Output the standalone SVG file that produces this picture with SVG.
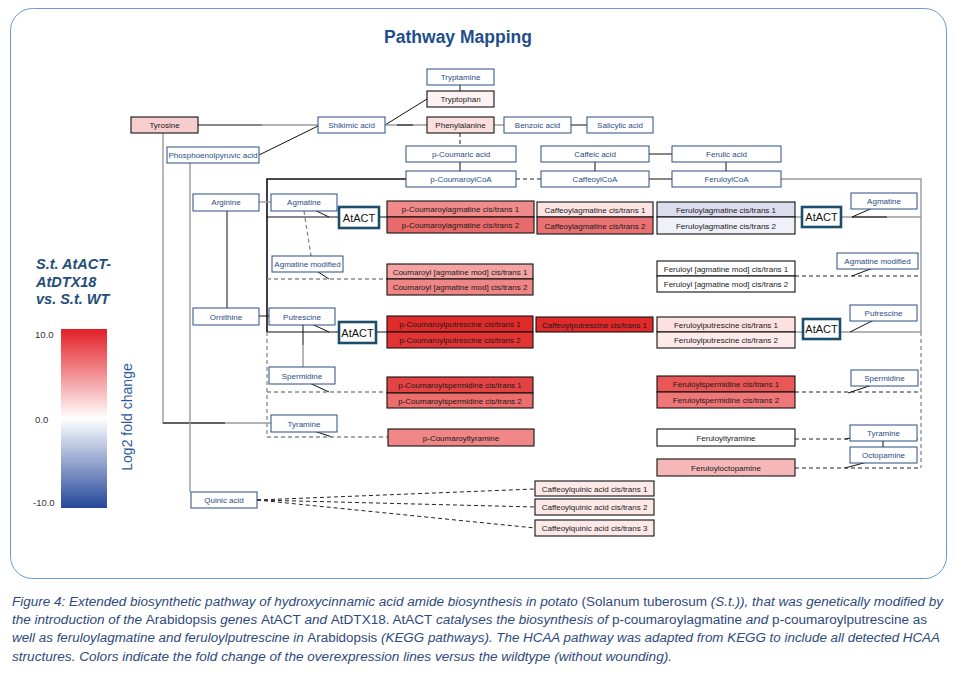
<svg xmlns="http://www.w3.org/2000/svg" width="955" height="676" viewBox="0 0 955 676">
<style>
text{font-family:"Liberation Sans",Arial,sans-serif}
.n rect{stroke-width:1}
.b rect{fill:#fff;stroke:#2a4d86}
.b text{fill:#2a4d86;font-size:8px;text-anchor:middle}
.k rect{stroke:#111;stroke-width:1.1}
.k text{fill:#1a1a1a;font-size:8px;text-anchor:middle}
.a rect{fill:#fff;stroke:#1d4d6b;stroke-width:2.6}
.a text{fill:#111;font-size:11px;text-anchor:middle}
.c line,.c polyline{fill:none}
.s{stroke:#111;stroke-width:1}
.s2{stroke:#111;stroke-width:1.6}
.g{stroke:#9a9a9a;stroke-width:1.4}
.d{stroke:#222;stroke-width:1;stroke-dasharray:4 3}
.gd{stroke:#8a8a8a;stroke-width:1.3;stroke-dasharray:4 3}
.cap{fill:#2e4a7d;font-size:12.5px;font-style:italic}
.cap .r{font-style:normal}
</style>
<defs>
<linearGradient id="fc" x1="0" y1="0" x2="0" y2="1">
<stop offset="0" stop-color="#e31f26"/>
<stop offset="0.5" stop-color="#ffffff"/>
<stop offset="1" stop-color="#24479a"/>
</linearGradient>
</defs>
<rect x="10.5" y="8.5" width="936" height="570" rx="22" fill="#fff" stroke="#6a9bd0" stroke-width="1"/>
<text x="458" y="43" font-size="17.5" font-weight="bold" fill="#1e4e8c" text-anchor="middle">Pathway Mapping</text>

<g id="legend">
<text font-size="14.5" font-weight="bold" font-style="italic" fill="#1f4e79"><tspan x="36" y="269">S.t. AtACT-</tspan><tspan x="36" y="287">AtDTX18</tspan><tspan x="36" y="304">vs. S.t. WT</tspan></text>
<rect x="61" y="329" width="46" height="179" fill="url(#fc)"/>
<text font-size="9.5" fill="#333"><tspan x="35" y="338">10.0</tspan><tspan x="35" y="423">0.0</tspan><tspan x="33" y="506">-10.0</tspan></text>
<text transform="translate(132,417) rotate(-90)" font-size="14" fill="#2c5a9e" text-anchor="middle">Log2 fold change</text>
</g>

<g id="connectors" class="c">
<line class="s" x1="460" y1="85" x2="460" y2="91"/>
<line class="s" x1="385" y1="125" x2="427" y2="99"/>
<line class="s" x1="198" y1="125" x2="262" y2="125"/>
<line class="g" x1="262" y1="125" x2="318" y2="125"/>
<line class="g" x1="385" y1="125" x2="427" y2="125"/>
<line class="s" x1="397" y1="125" x2="413" y2="125"/>
<line class="s" x1="259" y1="155" x2="318" y2="126"/>
<line class="g" x1="494" y1="125" x2="504" y2="125"/>
<line class="s" x1="571" y1="125" x2="587" y2="125"/>
<line class="d" x1="460" y1="133" x2="460" y2="146"/>
<line class="s" x1="460" y1="162" x2="460" y2="171"/>
<line class="s" x1="649" y1="154" x2="672" y2="154"/>
<line class="s" x1="595" y1="162" x2="595" y2="171"/>
<line class="s" x1="726" y1="162" x2="726" y2="171"/>
<line class="d" x1="516" y1="179" x2="541" y2="179"/>
<line class="s" x1="649" y1="179" x2="672" y2="179"/>
<polyline class="s2" points="406,179 267,179 267,332"/>
<line class="s" x1="267" y1="217" x2="339" y2="217"/>
<line class="s" x1="267" y1="332" x2="339" y2="332"/>
<line class="gd" x1="267" y1="332" x2="267" y2="437"/>
<line class="s" x1="304" y1="205" x2="329" y2="217"/>
<line class="gd" x1="304" y1="211" x2="311" y2="256"/>
<line class="s" x1="312" y1="268" x2="329" y2="279"/>
<line class="gd" x1="267" y1="279" x2="387" y2="279"/>
<line class="s" x1="379" y1="217" x2="387" y2="217"/>
<line class="g" x1="259" y1="202" x2="271" y2="202"/>
<line class="s" x1="227" y1="211" x2="227" y2="308"/>
<line class="s" x1="259" y1="316" x2="269" y2="316"/>
<line class="s" x1="303" y1="320" x2="329" y2="332"/>
<line class="s" x1="303" y1="325" x2="303" y2="345"/>
<line class="g" x1="303" y1="345" x2="303" y2="367"/>
<line class="s" x1="376" y1="332" x2="387" y2="332"/>
<line class="s" x1="303" y1="380" x2="329" y2="392"/>
<line class="gd" x1="267" y1="392" x2="387" y2="392"/>
<line class="s" x1="305" y1="428" x2="332" y2="437"/>
<line class="gd" x1="267" y1="437" x2="388" y2="437"/>
<polyline class="g" points="163,133 163,423 225,423"/>
<line class="s" x1="163" y1="423" x2="225" y2="423"/>
<line class="g" x1="225" y1="423" x2="271" y2="423"/>
<line class="g" x1="190" y1="163" x2="190" y2="492"/>
<line class="d" x1="257" y1="500" x2="535" y2="489"/>
<line class="d" x1="257" y1="500" x2="535" y2="507"/>
<line class="d" x1="257" y1="500" x2="535" y2="528"/>
<polyline class="g" points="781,179 921,179 921,332"/>
<line class="gd" x1="921" y1="332" x2="921" y2="468"/>
<line class="g" x1="795" y1="217" x2="802" y2="217"/>
<line class="g" x1="841" y1="217" x2="921" y2="217"/>
<line class="s" x1="852" y1="217" x2="887" y2="217"/>
<line class="s" x1="884" y1="203" x2="852" y2="217"/>
<line class="d" x1="795" y1="276" x2="921" y2="276"/>
<line class="s" x1="886" y1="263" x2="852" y2="276"/>
<line class="g" x1="795" y1="332" x2="803" y2="332"/>
<line class="g" x1="840" y1="332" x2="921" y2="332"/>
<line class="s" x1="882" y1="316" x2="850" y2="332"/>
<line class="d" x1="795" y1="392" x2="921" y2="392"/>
<line class="s" x1="884" y1="381" x2="848" y2="393"/>
<line class="d" x1="795" y1="439" x2="921" y2="439"/>
<line class="s" x1="882" y1="433" x2="845" y2="439"/>
<line class="s" x1="883" y1="441" x2="883" y2="447"/>
<line class="d" x1="795" y1="468" x2="921" y2="468"/>
<line class="s" x1="882" y1="458" x2="845" y2="468"/>
</g>

<g id="tryptamine" class="n b"><rect x="427" y="69" width="67" height="16"/><text x="460.5" y="80">Tryptamine</text></g>
<g id="tryptophan" class="n k"><rect x="427" y="91" width="67" height="16" fill="#fdf1f1"/><text x="460.5" y="102">Tryptophan</text></g>
<g id="tyrosine" class="n k"><rect x="131" y="117" width="67" height="16" fill="#f7cdcd"/><text x="164.5" y="128">Tyrosine</text></g>
<g id="shikimic" class="n b"><rect x="318" y="117" width="67" height="16"/><text x="351.5" y="128">Shikimic acid</text></g>
<g id="phenylalanine" class="n k"><rect x="427" y="117" width="67" height="16" fill="#fbdede"/><text x="460.5" y="128">Phenylalanine</text></g>
<g id="benzoic" class="n b"><rect x="504" y="117" width="67" height="16"/><text x="537.5" y="128">Benzoic acid</text></g>
<g id="salicylic" class="n b"><rect x="587" y="117" width="66" height="16"/><text x="620" y="128">Salicylic acid</text></g>
<g id="pep" class="n b"><rect x="167" y="147" width="92" height="16"/><text x="213" y="158" textLength="89" lengthAdjust="spacingAndGlyphs">Phosphoenolpyruvic acid</text></g>
<g id="pcoumaric" class="n b"><rect x="406" y="146" width="110" height="16"/><text x="461" y="157">p-Coumaric acid</text></g>
<g id="caffeic" class="n b"><rect x="541" y="146" width="108" height="16"/><text x="595" y="157">Caffeic acid</text></g>
<g id="ferulic" class="n b"><rect x="672" y="146" width="109" height="16"/><text x="726.5" y="157">Ferulic acid</text></g>
<g id="pcoumaroylcoa" class="n b"><rect x="406" y="171" width="110" height="16"/><text x="461" y="182">p-CoumaroylCoA</text></g>
<g id="caffeoylcoa" class="n b"><rect x="541" y="171" width="108" height="16"/><text x="595" y="182">CaffeoylCoA</text></g>
<g id="feruloylcoa" class="n b"><rect x="672" y="171" width="109" height="16"/><text x="726.5" y="182">FeruloylCoA</text></g>

<g id="arginine" class="n b"><rect x="193" y="194" width="66" height="17"/><text x="226" y="205">Arginine</text></g>
<g id="agmatine-l" class="n b"><rect x="271" y="194" width="66" height="17"/><text x="304" y="205">Agmatine</text></g>
<g id="atact-1" class="n a"><rect x="339" y="207" width="40" height="21"/><text x="359" y="221.5">AtACT</text></g>
<g id="pcoumaroylagmatine" class="n k"><rect x="387" y="201" width="147" height="16" fill="#f18a8a"/><rect x="387" y="217" width="147" height="16" fill="#e96a6a"/><text x="460.5" y="212">p-Coumaroylagmatine cis/trans 1</text><text x="460.5" y="228">p-Coumaroylagmatine cis/trans 2</text></g>
<g id="caffeoylagmatine" class="n k"><rect x="537" y="202" width="116" height="15" fill="#fde4e4"/><rect x="537" y="217" width="116" height="17" fill="#e87272"/><text x="595" y="212.5">Caffeoylagmatine cis/trans 1</text><text x="595" y="228.5">Caffeoylagmatine cis/trans 2</text></g>
<g id="feruloylagmatine" class="n k"><rect x="657" y="202" width="138" height="15" fill="#dcdcef"/><rect x="657" y="217" width="138" height="17" fill="#f0f0f9"/><text x="726" y="212.5">Feruloylagmatine cis/trans 1</text><text x="726" y="228.5">Feruloylagmatine cis/trans 2</text></g>
<g id="atact-2" class="n a"><rect x="802" y="207" width="39" height="20"/><text x="821.5" y="221">AtACT</text></g>
<g id="agmatine-r" class="n b"><rect x="851" y="193" width="66" height="16"/><text x="884" y="204">Agmatine</text></g>
<g id="agmatine-mod-l" class="n b"><rect x="272" y="256" width="71" height="16"/><text x="307.5" y="267">Agmatine modified</text></g>
<g id="coumaroyl-agmod" class="n k"><rect x="387" y="264" width="146" height="15" fill="#f4a3a3"/><rect x="387" y="279" width="146" height="16" fill="#ef8585"/><text x="460" y="274.5">Coumaroyl [agmatine mod] cis/trans 1</text><text x="460" y="290">Coumaroyl [agmatine mod] cis/trans 2</text></g>
<g id="feruloyl-agmod" class="n k"><rect x="657" y="261" width="138" height="15" fill="#fff"/><rect x="657" y="276" width="138" height="16" fill="#fff"/><text x="726" y="271.5">Feruloyl [agmatine mod] cis/trans 1</text><text x="726" y="287">Feruloyl [agmatine mod] cis/trans 2</text></g>
<g id="agmatine-mod-r" class="n b"><rect x="837" y="253" width="81" height="16"/><text x="877.5" y="264">Agmatine modified</text></g>
<g id="ornithine" class="n b"><rect x="193" y="308" width="66" height="17"/><text x="226" y="319.5">Ornithine</text></g>
<g id="putrescine-l" class="n b"><rect x="269" y="308" width="66" height="17"/><text x="302" y="319.5">Putrescine</text></g>
<g id="atact-3" class="n a"><rect x="339" y="322" width="37" height="21"/><text x="357.5" y="336.5">AtACT</text></g>
<g id="pcoumaroylputrescine" class="n k"><rect x="387" y="316" width="146" height="16" fill="#e02b2b"/><rect x="387" y="332" width="146" height="16" fill="#e33434"/><text x="460" y="327">p-Coumaroylputrescine cis/trans 1</text><text x="460" y="343">p-Coumaroylputrescine cis/trans 2</text></g>
<g id="caffeoylputrescine" class="n k"><rect x="536" y="317" width="117" height="15" fill="#e02a2a"/><text x="594.5" y="327.5">Caffeoylputrescine cis/trans 1</text></g>
<g id="feruloylputrescine" class="n k"><rect x="657" y="317" width="138" height="15" fill="#fde0e0"/><rect x="657" y="332" width="138" height="16" fill="#fdeaea"/><text x="726" y="327.5">Feruloylputrescine cis/trans 1</text><text x="726" y="343">Feruloylputrescine cis/trans 2</text></g>
<g id="atact-4" class="n a"><rect x="803" y="319" width="37" height="20"/><text x="821.5" y="333">AtACT</text></g>
<g id="putrescine-r" class="n b"><rect x="850" y="305" width="67" height="16"/><text x="883.5" y="316">Putrescine</text></g>
<g id="spermidine-l" class="n b"><rect x="269" y="367" width="66" height="17"/><text x="302" y="378.5">Spermidine</text></g>
<g id="pcoumaroylspermidine" class="n k"><rect x="387" y="377" width="146" height="16" fill="#e44343"/><rect x="387" y="393" width="146" height="15" fill="#ed6c6c"/><text x="460" y="388">p-Coumaroylspermidine cis/trans 1</text><text x="460" y="403.5">p-Coumaroylspermidine cis/trans 2</text></g>
<g id="feruloylspermidine" class="n k"><rect x="657" y="376" width="138" height="16" fill="#e95656"/><rect x="657" y="392" width="138" height="16" fill="#f07777"/><text x="726" y="387">Feruloylspermidine cis/trans 1</text><text x="726" y="403">Feruloylspermidine cis/trans 2</text></g>
<g id="spermidine-r" class="n b"><rect x="851" y="370" width="67" height="16"/><text x="884.5" y="381">Spermidine</text></g>
<g id="tyramine-l" class="n b"><rect x="271" y="415" width="66" height="17"/><text x="304" y="426.5">Tyramine</text></g>
<g id="pcoumaroyltyramine" class="n k"><rect x="388" y="429" width="146" height="17" fill="#f08686"/><text x="461" y="440.5">p-Coumaroyltyramine</text></g>
<g id="feruloyltyramine" class="n k"><rect x="657" y="429" width="138" height="17" fill="#fff"/><text x="726" y="440.5">Feruloyltyramine</text></g>
<g id="tyramine-r" class="n b"><rect x="850" y="425" width="67" height="16"/><text x="883.5" y="436">Tyramine</text></g>
<g id="octopamine" class="n b"><rect x="850" y="447" width="67" height="16"/><text x="883.5" y="458">Octopamine</text></g>
<g id="feruloyloctopamine" class="n k"><rect x="657" y="459" width="138" height="17" fill="#f5b7b7"/><text x="726" y="470.5">Feruloyloctopamine</text></g>
<g id="quinic" class="n b"><rect x="191" y="492" width="66" height="16"/><text x="224" y="503">Quinic acid</text></g>
<g id="caffeoylquinic-1" class="n k"><rect x="535" y="481" width="119" height="15" fill="#fde8e8"/><text x="594.5" y="491.5">Caffeoylquinic acid cis/trans 1</text></g>
<g id="caffeoylquinic-2" class="n k"><rect x="535" y="499" width="119" height="16" fill="#fde8e8"/><text x="594.5" y="510">Caffeoylquinic acid cis/trans 2</text></g>
<g id="caffeoylquinic-3" class="n k"><rect x="535" y="520" width="119" height="16" fill="#fde8e8"/><text x="594.5" y="531">Caffeoylquinic acid cis/trans 3</text></g>

<g id="caption">
<text class="cap" x="12" y="606" textLength="931" lengthAdjust="spacingAndGlyphs">Figure 4: Extended biosynthetic pathway of hydroxycinnamic acid amide biosynthesis in potato <tspan class="r">(Solanum tuberosum</tspan> (S.t.)), that was genetically modified by</text>
<text class="cap" x="12" y="624" textLength="915" lengthAdjust="spacingAndGlyphs">the introduction of the <tspan class="r">Arabidopsis</tspan> genes <tspan class="r">AtACT</tspan> and <tspan class="r">AtDTX18. AtACT</tspan> catalyses the biosynthesis of <tspan class="r">p-coumaroylagmatine</tspan> and <tspan class="r">p-coumaroylputrescine as</tspan></text>
<text class="cap" x="12" y="642" textLength="928" lengthAdjust="spacingAndGlyphs">well as feruloylagmatine and feruloylputrescine in <tspan class="r">Arabidopsis</tspan> (KEGG pathways). The HCAA pathway was adapted from KEGG to include all detected HCAA</text>
<text class="cap" x="12" y="661" textLength="660" lengthAdjust="spacingAndGlyphs">structures. Colors indicate the fold change of the overexpression lines versus the wildtype (without wounding).</text>
</g>
</svg>
